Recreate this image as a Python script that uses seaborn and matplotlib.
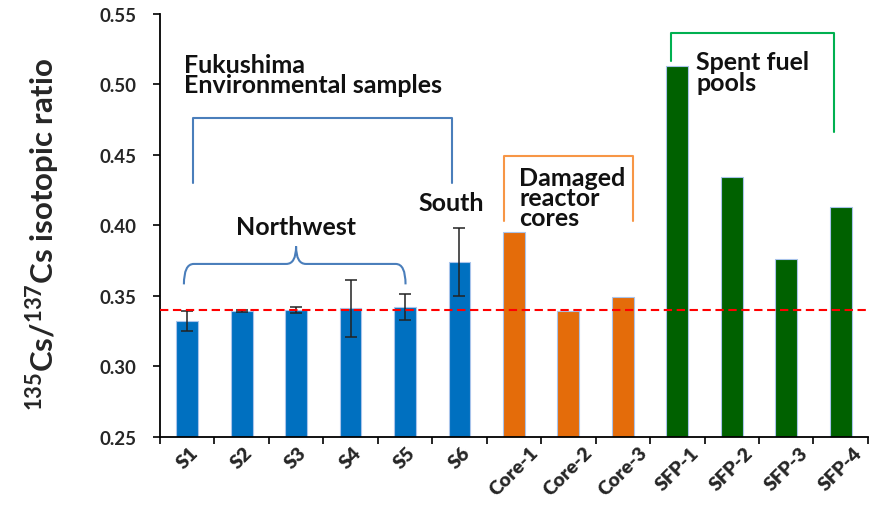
import numpy as np
import pandas as pd
import matplotlib
matplotlib.use("Agg")
import matplotlib.pyplot as plt
from matplotlib.path import Path
from matplotlib.patches import PathPatch
import seaborn as sns

# data
samples = ['S1', 'S2', 'S3', 'S4', 'S5', 'S6',
           'Core-1', 'Core-2', 'Core-3',
           'SFP-1', 'SFP-2', 'SFP-3', 'SFP-4']
ratios = [0.332, 0.339, 0.340, 0.341, 0.342, 0.374,
          0.395, 0.339, 0.349,
          0.513, 0.434, 0.376, 0.413]
errors = [0.007, 0.0006, 0.002, 0.020, 0.009, 0.024,
          0, 0, 0,
          0, 0, 0, 0]
groups = ['env'] * 6 + ['core'] * 3 + ['sfp'] * 4
reference_ratio = 0.34

palette = {'env': '#0070C0', 'core': '#E46C0A', 'sfp': '#006100'}

sns.set_theme(style="white")
plt.rcParams['font.family'] = ['Lato', 'DejaVu Sans']
plt.rcParams['mathtext.fontset'] = 'custom'
plt.rcParams['mathtext.rm'] = 'Lato'
plt.rcParams['mathtext.bf'] = 'Lato:bold'

df = pd.DataFrame({'sample': samples, 'ratio': ratios, 'group': groups})

fig = plt.figure(figsize=(8.74, 5.10), dpi=100)
ax = fig.add_axes([0.183, 0.142, 0.810, 0.829])

sns.barplot(data=df, x='sample', y='ratio', hue='group', palette=palette,
            dodge=False, width=0.4, legend=False, edgecolor='#a9c4eb',
            linewidth=0.8, saturation=1, ax=ax, zorder=2)

ax.errorbar(np.arange(6), ratios[:6], yerr=errors[:6], fmt='none',
            ecolor='#222222', elinewidth=1.1, capsize=4, capthick=1.1, zorder=3)

ax.axhline(reference_ratio, color='red', lw=1.5, ls=(0, (4, 2.2)), zorder=4)

ax.set_ylim(0.25, 0.55)
ax.set_xlim(-0.5, len(samples) - 0.5)
ax.set_yticks(np.arange(0.25, 0.551, 0.05))
ax.set_yticklabels([f"{v:.2f}" for v in np.arange(0.25, 0.551, 0.05)],
                   fontsize=13.5, fontweight='bold')
ax.set_xticks(np.arange(len(samples)))
ax.set_xticklabels(samples, rotation=45, ha='center', fontsize=14,
                   fontweight='heavy')
ax.set_xticks(np.arange(-0.5, len(samples)), minor=True)
ax.tick_params(axis='x', which='major', length=0, pad=5)
ax.tick_params(axis='x', which='minor', length=5, width=1.2, direction='out',
               bottom=True, color='black')
ax.tick_params(axis='y', length=5, width=1.2, direction='out', left=True,
               color='black', pad=12)

ax.set_xlabel('')
ax.set_ylabel(r'$^{\mathbf{135}}$Cs/$^{\mathbf{137}}$Cs isotopic ratio',
              fontsize=22.5, fontweight='bold')
ax.yaxis.set_label_coords(-0.137, 0.48)

for side in ['top', 'right']:
    ax.spines[side].set_visible(False)
for side in ['left', 'bottom']:
    ax.spines[side].set_color('black')
    ax.spines[side].set_linewidth(1.3)

# group brackets
ax.plot([0.1, 0.1, 4.87, 4.87], [0.430, 0.4758, 0.4758, 0.430],
        color='#4a7ebb', lw=1.5, zorder=1)
ax.plot([5.82, 5.82, 8.18, 8.18], [0.4032, 0.4493, 0.4493, 0.4032],
        color='#f79646', lw=1.5, zorder=1)
ax.plot([8.88, 8.88, 11.87, 11.87], [0.5167, 0.5363, 0.5363, 0.4661],
        color='#00b050', lw=1.5, zorder=1)

# curly brace over the northwest samples
x0, x1, xc = -0.06, 4.01, 2.0
y_end, y_mid, y_tip = 0.358, 0.3725, 0.385
rx = 0.18
verts = [(x0, y_end), (x0, y_mid), (x0 + rx, y_mid),
         (xc - rx, y_mid), (xc, y_mid), (xc, y_tip),
         (xc, y_mid), (xc + rx, y_mid),
         (x1 - rx, y_mid), (x1, y_mid), (x1, y_end)]
codes = [Path.MOVETO, Path.CURVE3, Path.CURVE3,
         Path.LINETO, Path.CURVE3, Path.CURVE3,
         Path.CURVE3, Path.CURVE3,
         Path.LINETO, Path.CURVE3, Path.CURVE3]
ax.add_patch(PathPatch(Path(verts, codes), fill=False, edgecolor='#4a7ebb',
                       lw=1.5, zorder=1))

txt = dict(fontsize=18, fontweight='bold', color='#111111', linespacing=0.85)
ax.text(-0.05, 0.522, 'Fukushima\nEnvironmental samples', ha='left', va='top', **txt)
ax.text(xc, 0.391, 'Northwest', ha='center', va='bottom', **txt)
ax.text(4.85, 0.408, 'South', ha='center', va='bottom', **txt)
ax.text(6.1, 0.442, 'Damaged\nreactor\ncores', ha='left', va='top', **txt)
ax.text(9.35, 0.524, 'Spent fuel\npools', ha='left', va='top', **txt)

fig.savefig('out.png', dpi=100)
